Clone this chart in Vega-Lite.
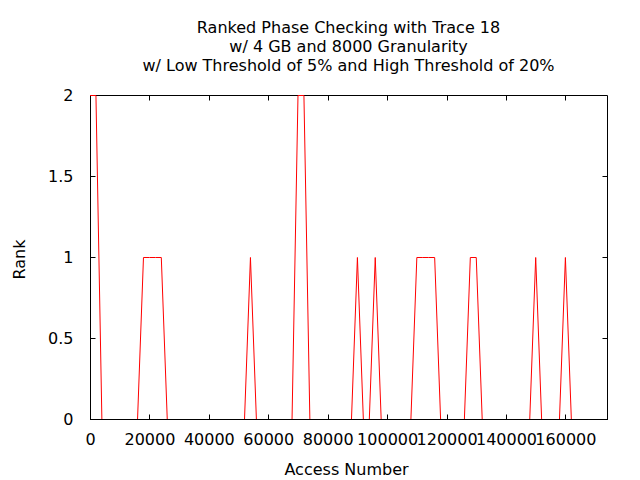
{
  "$schema": "https://vega.github.io/schema/vega-lite/v6.json",
  "width": 517,
  "height": 324,
  "autosize": {"type": "none"},
  "padding": {"left": 90, "top": 95, "right": 33, "bottom": 61},
  "background": "white",
  "config": {
    "view": {"stroke": null},
    "font": "DejaVu Sans",
    "axis": {
      "domainColor": "black", "tickColor": "black", "labelColor": "black", "titleColor": "black",
      "labelFont": "DejaVu Sans", "titleFont": "DejaVu Sans", "labelFontSize": 16, "titleFontSize": 16,
      "titleFontWeight": "normal", "grid": false, "tickSize": -5, "zindex": 1, "domainWidth": 1, "tickWidth": 1
    }
  },
  "title": {
    "text": ["Ranked Phase Checking with Trace 18", "w/ 4 GB and 8000 Granularity", "w/ Low Threshold of 5% and High Threshold of 20%"],
    "font": "DejaVu Sans", "fontSize": 16, "fontWeight": "normal", "color": "black",
    "lineHeight": 19, "anchor": "middle", "offset": 13
  },
  "data": {
    "values": [
      {"access": 0, "rank": 2}, {"access": 2000, "rank": 2}, {"access": 4000, "rank": 0},
      {"access": 6000, "rank": 0}, {"access": 8000, "rank": 0}, {"access": 10000, "rank": 0},
      {"access": 12000, "rank": 0}, {"access": 14000, "rank": 0}, {"access": 16000, "rank": 0},
      {"access": 18000, "rank": 1}, {"access": 20000, "rank": 1}, {"access": 22000, "rank": 1},
      {"access": 24000, "rank": 1}, {"access": 26000, "rank": 0}, {"access": 28000, "rank": 0},
      {"access": 30000, "rank": 0}, {"access": 32000, "rank": 0}, {"access": 34000, "rank": 0},
      {"access": 36000, "rank": 0}, {"access": 38000, "rank": 0}, {"access": 40000, "rank": 0},
      {"access": 42000, "rank": 0}, {"access": 44000, "rank": 0}, {"access": 46000, "rank": 0},
      {"access": 48000, "rank": 0}, {"access": 50000, "rank": 0}, {"access": 52000, "rank": 0},
      {"access": 54000, "rank": 1}, {"access": 56000, "rank": 0}, {"access": 58000, "rank": 0},
      {"access": 60000, "rank": 0}, {"access": 62000, "rank": 0}, {"access": 64000, "rank": 0},
      {"access": 66000, "rank": 0}, {"access": 68000, "rank": 0}, {"access": 70000, "rank": 2},
      {"access": 72000, "rank": 2}, {"access": 74000, "rank": 0}, {"access": 76000, "rank": 0},
      {"access": 78000, "rank": 0}, {"access": 80000, "rank": 0}, {"access": 82000, "rank": 0},
      {"access": 84000, "rank": 0}, {"access": 86000, "rank": 0}, {"access": 88000, "rank": 0},
      {"access": 90000, "rank": 1}, {"access": 92000, "rank": 0}, {"access": 94000, "rank": 0},
      {"access": 96000, "rank": 1}, {"access": 98000, "rank": 0}, {"access": 100000, "rank": 0},
      {"access": 102000, "rank": 0}, {"access": 104000, "rank": 0}, {"access": 106000, "rank": 0},
      {"access": 108000, "rank": 0}, {"access": 110000, "rank": 1}, {"access": 112000, "rank": 1},
      {"access": 114000, "rank": 1}, {"access": 116000, "rank": 1}, {"access": 118000, "rank": 0},
      {"access": 120000, "rank": 0}, {"access": 122000, "rank": 0}, {"access": 124000, "rank": 0},
      {"access": 126000, "rank": 0}, {"access": 128000, "rank": 1}, {"access": 130000, "rank": 1},
      {"access": 132000, "rank": 0}, {"access": 134000, "rank": 0}, {"access": 136000, "rank": 0},
      {"access": 138000, "rank": 0}, {"access": 140000, "rank": 0}, {"access": 142000, "rank": 0},
      {"access": 144000, "rank": 0}, {"access": 146000, "rank": 0}, {"access": 148000, "rank": 0},
      {"access": 150000, "rank": 1}, {"access": 152000, "rank": 0}, {"access": 154000, "rank": 0},
      {"access": 156000, "rank": 0}, {"access": 158000, "rank": 0}, {"access": 160000, "rank": 1},
      {"access": 162000, "rank": 0}, {"access": 164000, "rank": 0}, {"access": 166000, "rank": 0},
      {"access": 168000, "rank": 0}, {"access": 170000, "rank": 0}, {"access": 172000, "rank": 0},
      {"access": 174000, "rank": 0}
    ]
  },
  "layer": [
    {
      "mark": {"type": "line", "color": "#ff0000", "strokeWidth": 1, "clip": true},
      "encoding": {
        "x": {"field": "access", "type": "quantitative",
          "scale": {"domain": [0, 174000], "nice": false, "zero": false},
          "axis": {"orient": "bottom", "title": "Access Number", "values": [0, 20000, 40000, 60000, 80000, 100000, 120000, 140000, 160000],
            "format": "d", "labelPadding": 17, "labelFlush": false, "labelOverlap": false,
            "titleX": 256, "titleY": 55, "titleBaseline": "alphabetic", "titleAnchor": null}},
        "y": {"field": "rank", "type": "quantitative",
          "scale": {"domain": [0, 2], "nice": false, "range": [324.5, 0.5]},
          "axis": {"orient": "left", "title": "Rank", "values": [0, 0.5, 1, 1.5, 2], "format": "~g",
            "labelPadding": 22, "labelFlush": false, "labelOverlap": false, "tickOffset": -0.5,
            "titleX": -71, "titleY": 164, "titleAngle": -90, "titleBaseline": "middle", "titleAlign": "center"}}
      }
    },
    {
      "mark": {"type": "line", "strokeOpacity": 0},
      "encoding": {
        "x": {"field": "access", "type": "quantitative",
          "axis": {"orient": "top", "title": null, "labels": false, "values": [0, 20000, 40000, 60000, 80000, 100000, 120000, 140000, 160000]}},
        "y": {"field": "rank", "type": "quantitative",
          "axis": {"orient": "right", "title": null, "labels": false, "tickOffset": -0.5, "values": [0, 0.5, 1, 1.5, 2]}}
      }
    }
  ],
  "resolve": {"axis": {"x": "independent", "y": "independent"}}
}
